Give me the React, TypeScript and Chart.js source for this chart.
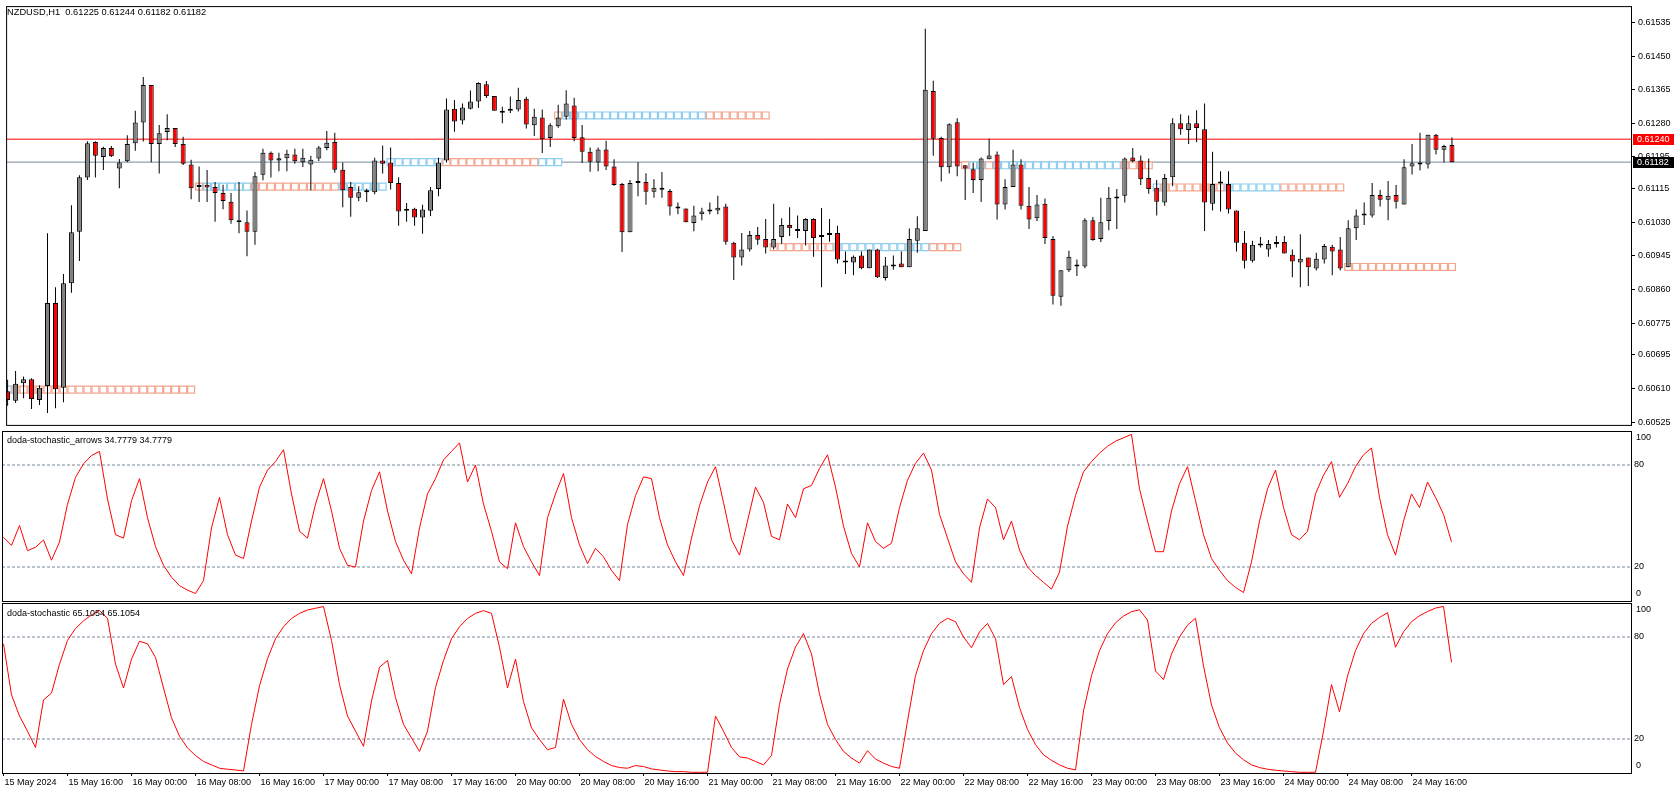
import React, { useEffect, useRef } from 'react';
import { Chart, registerables } from 'chart.js';

Chart.register(...registerables);

// ---------------- data ----------------
const symbolTitle = 'NZDUSD,H1  0.61225 0.61244 0.61182 0.61182';
const stochArrowsTitle = 'doda-stochastic_arrows 34.7779 34.7779';
const stochTitle = 'doda-stochastic 65.1054 65.1054';

const xTickBars = [0, 8, 16, 24, 32, 40, 48, 56, 64, 72, 80, 88, 96, 104, 112, 120, 128, 136, 144, 152, 160, 168, 176];
const xTickLabels = [
  '15 May 2024', '15 May 16:00', '16 May 00:00', '16 May 08:00', '16 May 16:00', '17 May 00:00',
  '17 May 08:00', '17 May 16:00', '20 May 00:00', '20 May 08:00', '20 May 16:00', '21 May 00:00',
  '21 May 08:00', '21 May 16:00', '22 May 00:00', '22 May 08:00', '22 May 16:00', '23 May 00:00',
  '23 May 08:00', '23 May 16:00', '24 May 00:00', '24 May 08:00', '24 May 16:00',
];

const opens = [
  0.60603, 0.60579, 0.60623, 0.60633, 0.60581, 0.60616, 0.60826, 0.60612, 0.60876, 0.61006,
  0.61143, 0.61233, 0.61195, 0.61218, 0.61166, 0.61184, 0.61230, 0.61282, 0.61377, 0.61228,
  0.61258, 0.61268, 0.61228, 0.61176, 0.61119, 0.61125, 0.61119, 0.61104, 0.61082, 0.61035,
  0.61030, 0.61006, 0.61150, 0.61206, 0.61186, 0.61192, 0.61201, 0.61182, 0.61176, 0.61191,
  0.61218, 0.61233, 0.61163, 0.61119, 0.61092, 0.61106, 0.61106, 0.61186, 0.61181, 0.61129,
  0.61059, 0.61064, 0.61042, 0.61059, 0.61114, 0.61186, 0.61317, 0.61287, 0.61317, 0.61335,
  0.61379, 0.61349, 0.61312, 0.61312, 0.61315, 0.61342, 0.61275, 0.61295, 0.61243, 0.61273,
  0.61297, 0.61325, 0.61245, 0.61208, 0.61181, 0.61214, 0.61171, 0.61127, 0.61005, 0.61129,
  0.61132, 0.61107, 0.61117, 0.61109, 0.61070, 0.61065, 0.61028, 0.61050, 0.61057, 0.61060,
  0.61070, 0.60978, 0.60941, 0.60961, 0.60998, 0.60988, 0.60966, 0.60993, 0.61023, 0.61013,
  0.61008, 0.61038, 0.60993, 0.60998, 0.61003, 0.60933, 0.60928, 0.60946, 0.60914, 0.60961,
  0.60889, 0.60918, 0.60926, 0.60916, 0.60983, 0.61008, 0.61362, 0.61243, 0.61169, 0.61283,
  0.61174, 0.61164, 0.61137, 0.61189, 0.61201, 0.61075, 0.61119, 0.61176, 0.61072, 0.61040,
  0.61077, 0.60988, 0.60842, 0.60909, 0.60923, 0.60918, 0.61035, 0.60988, 0.61033, 0.61090,
  0.61097, 0.61194, 0.61186, 0.61142, 0.61117, 0.61080, 0.61144, 0.61280, 0.61263, 0.61280,
  0.61265, 0.61077, 0.61129, 0.61127, 0.61060, 0.60978, 0.60933, 0.60971, 0.60961, 0.60975,
  0.60980, 0.60948, 0.60928, 0.60941, 0.60913, 0.60936, 0.60968, 0.60961, 0.60916, 0.61015,
  0.61047, 0.61047, 0.61099, 0.61087, 0.61099, 0.61075, 0.61171, 0.61176, 0.61176, 0.61251,
  0.61213, 0.61225,
];
const highs = [
  0.60632, 0.60654, 0.60640, 0.60636, 0.60618, 0.61002, 0.60866, 0.60899, 0.61073, 0.61149,
  0.61235, 0.61235, 0.61221, 0.61223, 0.61190, 0.61250, 0.61312, 0.61397, 0.61377, 0.61276,
  0.61303, 0.61268, 0.61246, 0.61188, 0.61171, 0.61162, 0.61132, 0.61125, 0.61104, 0.61132,
  0.61060, 0.61157, 0.61216, 0.61209, 0.61206, 0.61213, 0.61216, 0.61216, 0.61198, 0.61223,
  0.61261, 0.61256, 0.61181, 0.61132, 0.61121, 0.61115, 0.61193, 0.61224, 0.61219, 0.61144,
  0.61079, 0.61067, 0.61074, 0.61119, 0.61193, 0.61343, 0.61339, 0.61330, 0.61363, 0.61384,
  0.61387, 0.61349, 0.61322, 0.61348, 0.61370, 0.61347, 0.61317, 0.61315, 0.61280, 0.61327,
  0.61364, 0.61345, 0.61276, 0.61219, 0.61219, 0.61236, 0.61189, 0.61129, 0.61137, 0.61182,
  0.61154, 0.61139, 0.61157, 0.61114, 0.61080, 0.61065, 0.61072, 0.61067, 0.61080, 0.61097,
  0.61077, 0.60981, 0.61003, 0.61008, 0.61018, 0.61038, 0.61077, 0.61040, 0.61068, 0.61047,
  0.61040, 0.61040, 0.61066, 0.61038, 0.61021, 0.60956, 0.60946, 0.60956, 0.60961, 0.60963,
  0.60942, 0.60946, 0.60956, 0.61014, 0.61045, 0.61519, 0.61388, 0.61246, 0.61280, 0.61293,
  0.61174, 0.61181, 0.61194, 0.61241, 0.61209, 0.61139, 0.61213, 0.61189, 0.61119, 0.61099,
  0.61090, 0.60995, 0.60909, 0.60958, 0.60936, 0.61040, 0.61043, 0.61092, 0.61119, 0.61114,
  0.61194, 0.61218, 0.61199, 0.61191, 0.61137, 0.61152, 0.61293, 0.61303, 0.61300, 0.61313,
  0.61330, 0.61208, 0.61159, 0.61159, 0.61060, 0.61008, 0.60983, 0.60993, 0.60985, 0.60995,
  0.60995, 0.60961, 0.61000, 0.60941, 0.60953, 0.60975, 0.60973, 0.60993, 0.61035, 0.61062,
  0.61080, 0.61129, 0.61112, 0.61134, 0.61124, 0.61189, 0.61228, 0.61256, 0.61251, 0.61253,
  0.61226, 0.61244,
];
const lows = [
  0.60566, 0.60573, 0.60585, 0.60558, 0.60568, 0.60548, 0.60560, 0.60575, 0.60852, 0.60932,
  0.61137, 0.61143, 0.61162, 0.61195, 0.61116, 0.61182, 0.61211, 0.61234, 0.61182, 0.61153,
  0.61237, 0.61220, 0.61175, 0.61088, 0.61081, 0.61081, 0.61031, 0.61063, 0.61026, 0.61002,
  0.60944, 0.60973, 0.61136, 0.61143, 0.61159, 0.61159, 0.61178, 0.61170, 0.61111, 0.61185,
  0.61212, 0.61155, 0.61068, 0.61044, 0.61083, 0.61081, 0.61101, 0.61153, 0.61113, 0.61021,
  0.61031, 0.61021, 0.61001, 0.61046, 0.61096, 0.61181, 0.61259, 0.61277, 0.61315, 0.61319,
  0.61344, 0.61312, 0.61280, 0.61306, 0.61310, 0.61267, 0.61248, 0.61205, 0.61220, 0.61269,
  0.61290, 0.61235, 0.61180, 0.61158, 0.61159, 0.61162, 0.61122, 0.60955, 0.61005, 0.61096,
  0.61074, 0.61092, 0.61092, 0.61047, 0.61050, 0.61030, 0.61007, 0.61035, 0.61050, 0.61050,
  0.60973, 0.60884, 0.60921, 0.60956, 0.60973, 0.60951, 0.60961, 0.60976, 0.60995, 0.60990,
  0.60971, 0.60943, 0.60866, 0.60981, 0.60926, 0.60899, 0.60896, 0.60911, 0.60914, 0.60889,
  0.60883, 0.60910, 0.60916, 0.60916, 0.60953, 0.61008, 0.61198, 0.61133, 0.61153, 0.61146,
  0.61086, 0.61104, 0.61081, 0.61189, 0.61037, 0.61062, 0.61119, 0.61062, 0.61013, 0.61033,
  0.60975, 0.60822, 0.60819, 0.60904, 0.60894, 0.60914, 0.60983, 0.60980, 0.61010, 0.61013,
  0.61080, 0.61181, 0.61124, 0.61102, 0.61047, 0.61072, 0.61121, 0.61251, 0.61228, 0.61232,
  0.61008, 0.61060, 0.61057, 0.61052, 0.60956, 0.60913, 0.60928, 0.60966, 0.60943, 0.60966,
  0.60951, 0.60891, 0.60866, 0.60869, 0.60908, 0.60926, 0.60896, 0.60908, 0.60916, 0.60985,
  0.61023, 0.61042, 0.61070, 0.61035, 0.61065, 0.61075, 0.61151, 0.61161, 0.61166, 0.61201,
  0.61181, 0.61182,
];
const closes = [
  0.60581, 0.60622, 0.60633, 0.60583, 0.60612, 0.60826, 0.60608, 0.60876, 0.61005, 0.61144,
  0.61230, 0.61198, 0.61218, 0.61197, 0.61181, 0.61228, 0.61282, 0.61377, 0.61228, 0.61255,
  0.61268, 0.61228, 0.61178, 0.61116, 0.61122, 0.61118, 0.61104, 0.61084, 0.61035, 0.61030,
  0.61006, 0.61146, 0.61206, 0.61186, 0.61192, 0.61203, 0.61184, 0.61193, 0.61188, 0.61219,
  0.61231, 0.61163, 0.61111, 0.61092, 0.61106, 0.61107, 0.61186, 0.61178, 0.61129, 0.61057,
  0.61064, 0.61042, 0.61062, 0.61111, 0.61181, 0.61315, 0.61285, 0.61320, 0.61335, 0.61382,
  0.61349, 0.61312, 0.61307, 0.61317, 0.61339, 0.61277, 0.61297, 0.61240, 0.61275, 0.61295,
  0.61330, 0.61243, 0.61208, 0.61183, 0.61214, 0.61171, 0.61124, 0.61005, 0.61129, 0.61132,
  0.61107, 0.61117, 0.61112, 0.61070, 0.61065, 0.61030, 0.61047, 0.61057, 0.61060, 0.61067,
  0.60981, 0.60941, 0.60961, 0.60998, 0.60986, 0.60966, 0.60988, 0.61023, 0.61015, 0.61008,
  0.61038, 0.60990, 0.60998, 0.61003, 0.60936, 0.60928, 0.60943, 0.60914, 0.60961, 0.60891,
  0.60921, 0.60923, 0.60916, 0.60988, 0.61015, 0.61365, 0.61241, 0.61169, 0.61278, 0.61171,
  0.61166, 0.61137, 0.61191, 0.61199, 0.61075, 0.61119, 0.61176, 0.61072, 0.61037, 0.61075,
  0.60990, 0.60844, 0.60909, 0.60943, 0.60918, 0.61035, 0.60985, 0.61030, 0.61092, 0.61094,
  0.61191, 0.61184, 0.61139, 0.61114, 0.61082, 0.61142, 0.61280, 0.61265, 0.61280, 0.61268,
  0.61080, 0.61127, 0.61128, 0.61062, 0.60978, 0.60933, 0.60973, 0.60973, 0.60975, 0.60978,
  0.60951, 0.60931, 0.60938, 0.60916, 0.60938, 0.60970, 0.60956, 0.60913, 0.61015, 0.61047,
  0.61050, 0.61099, 0.61087, 0.61097, 0.61082, 0.61169, 0.61179, 0.61177, 0.61251, 0.61213,
  0.61223, 0.61182,
];

const stochArrows = [
  37.5, 32.7, 44.4, 29.6, 31.6, 35.9, 24.0, 34.7, 56.9, 72.7,
  80.7, 85.6, 88, 60, 39, 37, 59, 72, 49, 32,
  21, 14, 9, 6.4, 4.4, 12, 43, 61, 39, 27,
  25, 47, 67, 77, 82, 89, 63, 41, 37, 57,
  72, 53, 31, 21, 20, 47, 65, 76, 53, 35,
  24, 16, 43, 63, 72, 83, 88, 93, 70, 80,
  57, 41, 23, 19, 46, 32, 23, 15, 49, 63,
  75, 49, 33, 22, 31, 26, 18, 12, 45, 62,
  73, 72, 49, 33, 23, 15, 37, 56, 70, 79,
  58, 36, 27, 47, 67, 58, 38, 36, 57, 49,
  66, 68, 78, 86, 67, 44, 28, 20, 46, 35,
  31, 34, 55, 71, 81, 87, 77, 51, 37, 23,
  16, 11, 43, 60, 55, 36, 47, 30, 20, 15,
  11, 7, 17, 44, 62, 76, 82, 87, 91, 94,
  96, 98, 66, 47, 29, 29, 53, 69, 79, 59,
  39, 25, 18, 12, 8, 5, 23, 47, 66, 77,
  55, 39, 36, 41, 63, 74, 82, 61, 69, 79,
  86, 90, 61, 39, 27, 47, 63, 55, 70, 61,
  51, 34.78,
];
const stochMain = [
  76, 46, 33.5, 24.6, 15, 43, 47, 64, 78, 85,
  89.5, 93, 95.5, 91, 64, 50, 67, 77.5, 76, 68,
  50, 32.5, 21.6, 14.7, 10.3, 6.8, 4.8, 2.8, 2.2, 1.8,
  1.2, 28.6, 51.3, 67.2, 79, 86, 90.9, 93.9, 95.9, 96.9,
  97.9, 78, 52, 33.5, 24.6, 15.7, 42.4, 62.2, 66.2, 44.4,
  28.6, 20.6, 12.7, 24.6, 50.3, 66.2, 79, 86, 90.9, 93.9,
  95.5, 93.9, 74, 50, 67, 42, 26.6, 19.7, 13.7, 15,
  43.4, 28.6, 19.7, 13.7, 9.7, 6.8, 4.4, 3.2, 2.8, 4.4,
  3.8, 2.4, 1.8, 1.2, 0.8, 0.8, 0.4, 0.4, 0.4, 33.5,
  24.6, 15, 9.5, 8.8, 6.8, 4.8, 10.3, 40.4, 61.2, 74.1,
  82, 70, 46.4, 28.6, 19.7, 12.7, 8.8, 5.8, 13.1, 8.2,
  5.8, 3.8, 2.8, 30.5, 57.3, 72, 82, 88, 91, 89,
  80, 73.7, 83, 88, 79, 52, 56.7, 38.5, 25.6, 16.7,
  10.7, 7.4, 4.8, 2.8, 1.8, 36.5, 57.3, 72, 82, 88.4,
  92.3, 94.9, 96, 90, 60, 55, 70, 80, 87, 91,
  63, 40, 26.6, 17.7, 11.7, 7.8, 4.8, 3.2, 2.2, 1.6,
  1.2, 0.8, 0.4, 0.4, 0.4, 24.6, 52, 36, 57, 72,
  82, 88, 91.5, 94.3, 74, 83, 89, 92.5, 95, 97,
  98, 65.1,
];

const priceTicks = [0.61535, 0.6145, 0.61365, 0.6128, 0.61195, 0.61115, 0.6103, 0.60945, 0.6086, 0.60775, 0.60695, 0.6061, 0.60525];
const priceAxisMin = 0.605178;
const priceAxisMax = 0.615764;
const askPrice = 0.6124;
const bidPrice = 0.61182;
const stochLevels = [80, 20];

// zone rows: price level and runs of bars [first, last, kind]
const zoneLevels = [0.60607, 0.6112, 0.61182, 0.613, 0.60967, 0.61174, 0.61118, 0.60917];
const zoneRuns: [number, number, string][][] = [
  [[0, 0, 'B'], [1, 23, 'S']],
  [[24, 24, 'S'], [25, 30, 'B'], [31, 41, 'S'], [42, 47, 'B']],
  [[48, 54, 'B'], [55, 66, 'S'], [67, 69, 'B']],
  [[69, 69, 'S'], [70, 87, 'B'], [88, 95, 'S']],
  [[96, 103, 'S'], [104, 115, 'B'], [116, 119, 'S']],
  [[120, 120, 'S'], [121, 122, 'B'], [123, 123, 'S'], [124, 139, 'B'], [140, 143, 'S']],
  [[144, 144, 'B'], [145, 152, 'S'], [153, 159, 'B'], [160, 167, 'S']],
  [[168, 181, 'S']],
];

// ---------------- styling ----------------
const FONT = "'Liberation Sans', Arial, sans-serif";
const AXIS_W = 46;
const X_MIN = -0.1875;
const X_MAX = 203.4375;
const BULL = '#808080';
const BEAR = '#FF0000';
const ZONE_B = '#8CCDEE';
const ZONE_S = '#F4A58F';
const LEVEL_GRAY = '#778899';

const framePlugin = {
  id: 'frame',
  afterDraw(chart: any) {
    const { ctx, chartArea: a } = chart;
    ctx.save();
    ctx.strokeStyle = '#000';
    ctx.lineWidth = 1;
    ctx.strokeRect(a.left + 0.5, a.top + 0.5, a.right - a.left, a.bottom - a.top);
    ctx.restore();
  },
};

const priceBoxPlugin = {
  id: 'priceBoxes',
  afterDraw(chart: any) {
    const { ctx } = chart;
    const y = chart.scales.y;
    const x0 = chart.chartArea.right + 2;
    const items: [number, string][] = [[askPrice, '#FF0000'], [bidPrice, '#000000']];
    ctx.save();
    items.forEach(([p, c]) => {
      const py = Math.round(y.getPixelForValue(p));
      ctx.fillStyle = c;
      ctx.fillRect(x0, py - 5, 41, 11);
      ctx.fillStyle = '#FFFFFF';
      ctx.font = `9px ${FONT}`;
      ctx.textBaseline = 'middle';
      ctx.textAlign = 'left';
      ctx.fillText(p.toFixed(5), x0 + 4, py + 0.5);
    });
    ctx.restore();
  },
};

const stochEdgeLabels = {
  id: 'stochEdges',
  afterDraw(chart: any) {
    const { ctx, chartArea: a } = chart;
    const s = chart.scales.y;
    ctx.save();
    ctx.fillStyle = '#000';
    ctx.font = `9px ${FONT}`;
    ctx.textBaseline = 'middle';
    ctx.textAlign = 'left';
    ctx.fillText(String(s.max), a.right + 5, a.top + 7);
    ctx.fillText(String(s.min), a.right + 5, a.bottom - 7);
    ctx.restore();
  },
};

function xScale(show: boolean) {
  return {
    type: 'linear',
    min: X_MIN,
    max: X_MAX,
    offset: false,
    display: show,
    position: 'bottom',
    afterBuildTicks: (s: any) => {
      s.ticks = xTickBars.map((v) => ({ value: v }));
    },
    afterFit: (s: any) => {
      s.height = show ? 21 : 0;
      s.paddingLeft = 0;
      s.paddingRight = 0;
    },
    grid: { display: show, drawOnChartArea: false, drawTicks: true, tickLength: 3, color: '#000', offset: false },
    border: { display: false },
    ticks: {
      autoSkip: false,
      maxRotation: 0,
      minRotation: 0,
      align: 'start',
      padding: 1,
      labelOffset: 1,
      color: '#000',
      font: { family: FONT, size: 9 },
      callback: (v: number) => {
        const k = xTickBars.indexOf(v);
        return k >= 0 ? xTickLabels[k] : '';
      },
    },
  };
}

function baseOptions(padTop: number, padBottom: number) {
  return {
    responsive: false,
    maintainAspectRatio: false,
    animation: false,
    devicePixelRatio: 1,
    events: [],
    layout: { padding: { left: 2, right: 0, top: padTop, bottom: padBottom } },
    plugins: { legend: { display: false }, tooltip: { enabled: false }, title: { display: false } },
  };
}

function mainConfig(): any {
  const zoneSets = zoneLevels.map((level, r) => {
    const pts: { x: number; y: number }[] = [];
    const cols: string[] = [];
    zoneRuns[r].forEach(([a, b, kind]) => {
      for (let i = a; i <= b; i++) {
        pts.push({ x: i, y: level });
        cols.push(kind === 'B' ? ZONE_B : ZONE_S);
      }
    });
    return {
      type: 'line',
      order: 3,
      showLine: false,
      data: pts,
      pointStyle: 'rect',
      pointRadius: 4.9,
      pointHoverRadius: 4.9,
      pointBorderWidth: 1.2,
      pointBorderColor: cols,
      pointBackgroundColor: '#FFFFFF',
    };
  });
  const levelLine = (p: number, color: string) => ({
    type: 'line',
    order: 4,
    data: [{ x: X_MIN, y: p }, { x: X_MAX, y: p }],
    borderColor: color,
    borderWidth: 1,
    pointRadius: 0,
  });
  return {
    type: 'bar',
    data: {
      datasets: [
        {
          type: 'bar',
          order: 1,
          grouped: false,
          data: opens.map((o, i) => ({ x: i, y: [o, closes[i]] })),
          backgroundColor: opens.map((o, i) => (closes[i] >= o ? BULL : BEAR)),
          borderColor: '#000000',
          borderWidth: 1,
          borderSkipped: false,
          barThickness: 5,
          maxBarThickness: 5,
          minBarLength: 2,
          inflateAmount: 0,
        },
        {
          type: 'bar',
          order: 2,
          grouped: false,
          data: lows.map((l, i) => ({ x: i, y: [l, highs[i]] })),
          backgroundColor: '#000000',
          borderWidth: 0,
          barThickness: 1,
          maxBarThickness: 1,
          inflateAmount: 0,
        },
        ...zoneSets,
        levelLine(askPrice, '#FF0000'),
        levelLine(bidPrice, LEVEL_GRAY),
      ],
    },
    options: {
      ...baseOptions(2, 2),
      scales: {
        x: xScale(false),
        y: {
          type: 'linear',
          position: 'right',
          min: priceAxisMin,
          max: priceAxisMax,
          afterBuildTicks: (s: any) => {
            s.ticks = priceTicks.map((v) => ({ value: v }));
          },
          afterFit: (s: any) => {
            s.width = AXIS_W;
            s.paddingTop = 0;
            s.paddingBottom = 0;
          },
          grid: { drawOnChartArea: false, drawTicks: true, tickLength: 4, color: '#000' },
          border: { display: false },
          ticks: {
            padding: 3,
            color: '#000',
            font: { family: FONT, size: 9 },
            callback: (v: number) => v.toFixed(5),
          },
        },
      },
    },
    plugins: [framePlugin, priceBoxPlugin],
  };
}

function stochConfig(values: number[], showX: boolean): any {
  return {
    type: 'line',
    data: {
      datasets: [
        {
          order: 1,
          data: values.map((v, i) => ({ x: i, y: v })),
          borderColor: '#FF0000',
          borderWidth: 1,
          pointRadius: 0,
          tension: 0,
        },
        ...stochLevels.map((lv) => ({
          order: 2,
          data: [{ x: X_MIN, y: lv }, { x: X_MAX, y: lv }],
          borderColor: LEVEL_GRAY,
          borderWidth: 1,
          borderDash: [3, 2],
          pointRadius: 0,
        })),
      ],
    },
    options: {
      ...baseOptions(1, showX ? 0 : 1),
      scales: {
        x: xScale(showX),
        y: {
          type: 'linear',
          position: 'right',
          min: 0,
          max: 100,
          afterBuildTicks: (s: any) => {
            s.ticks = stochLevels.map((v) => ({ value: v }));
          },
          afterFit: (s: any) => {
            s.width = AXIS_W;
            s.paddingTop = 0;
            s.paddingBottom = 0;
          },
          grid: { drawOnChartArea: false, drawTicks: false },
          border: { display: false },
          ticks: { padding: 3, color: '#000', font: { family: FONT, size: 9 } },
        },
      },
    },
    plugins: [framePlugin, stochEdgeLabels],
  };
}

const labelStyle = (left: number, top: number, size: number): React.CSSProperties => ({
  position: 'absolute',
  left,
  top,
  font: `${size}px ${FONT}`,
  lineHeight: '12px',
  color: '#000',
  whiteSpace: 'pre',
  zIndex: 2,
});

export default function App() {
  const mainRef = useRef<HTMLCanvasElement>(null);
  const s1Ref = useRef<HTMLCanvasElement>(null);
  const s2Ref = useRef<HTMLCanvasElement>(null);

  useEffect(() => {
    const charts = [
      new Chart(mainRef.current as HTMLCanvasElement, mainConfig()),
      new Chart(s1Ref.current as HTMLCanvasElement, stochConfig(stochArrows, false)),
      new Chart(s2Ref.current as HTMLCanvasElement, stochConfig(stochMain, true)),
    ];
    return () => charts.forEach((c) => c.destroy());
  }, []);

  return (
    <div style={{ position: 'fixed', left: 0, top: 0, width: 1677, height: 794, background: '#FFFFFF', overflow: 'hidden' }}>
      <canvas ref={mainRef} width={1677} height={431} style={{ position: 'absolute', left: 0, top: 0 }} />
      <canvas ref={s1Ref} width={1677} height={172} style={{ position: 'absolute', left: 0, top: 430 }} />
      <canvas ref={s2Ref} width={1677} height={192} style={{ position: 'absolute', left: 0, top: 602 }} />
      <div style={labelStyle(7, 6, 9.3)}>{symbolTitle}</div>
      <div style={labelStyle(7, 434, 9)}>{stochArrowsTitle}</div>
      <div style={labelStyle(7, 607, 9)}>{stochTitle}</div>
    </div>
  );
}
